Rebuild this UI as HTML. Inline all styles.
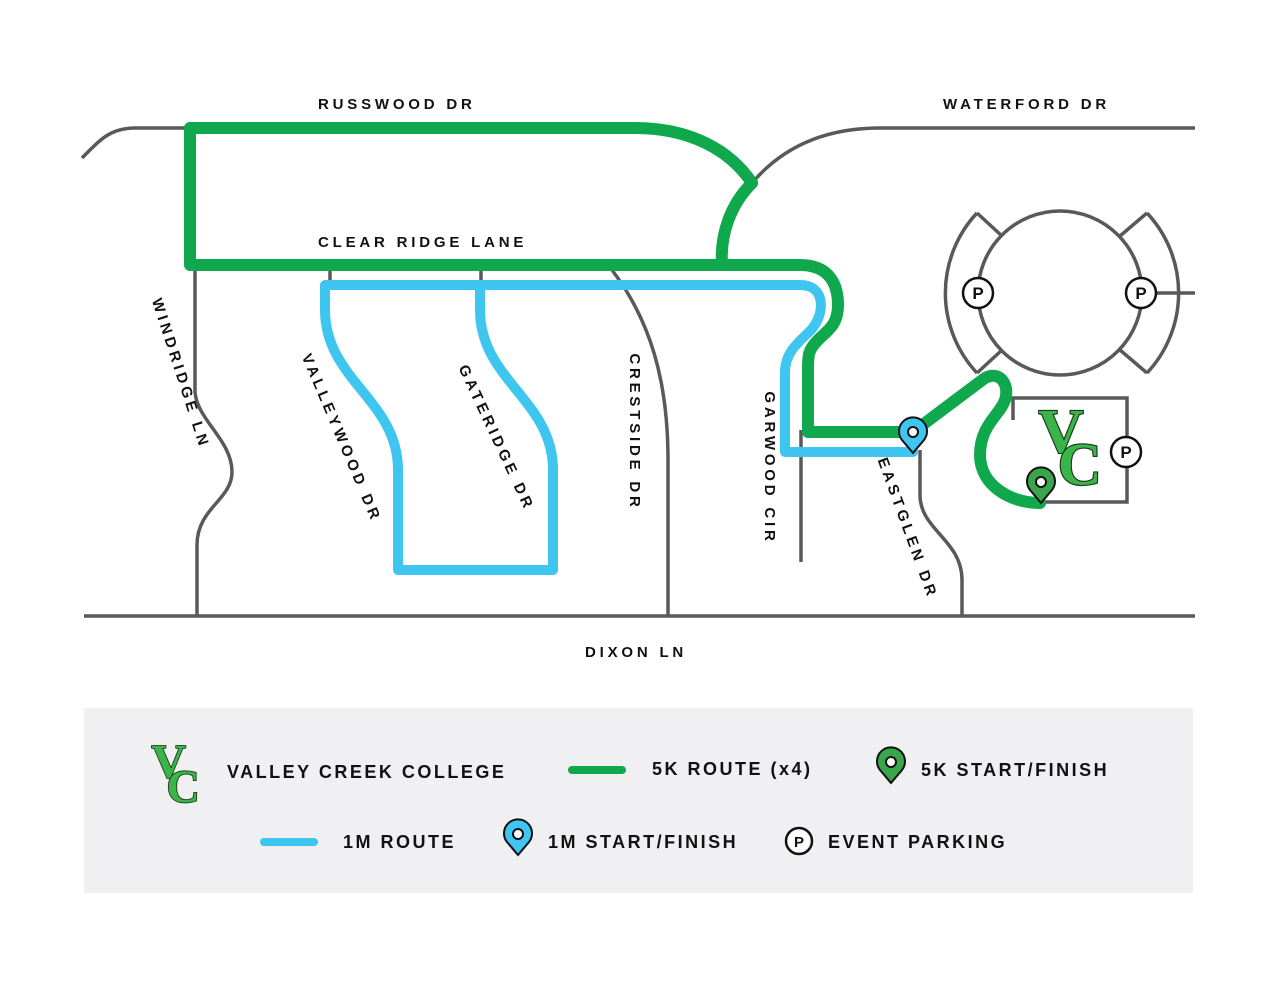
<!DOCTYPE html>
<html><head><meta charset="utf-8"><style>
html,body{margin:0;padding:0;background:#fff}
svg text{font-family:"Liberation Sans",sans-serif;font-weight:bold;fill:#111}
</style></head><body>
<svg width="1275" height="984" viewBox="0 0 1275 984" xmlns="http://www.w3.org/2000/svg">
<defs>
<symbol id="vc" viewBox="0 0 60 70">
<text x="0" y="40" style="font-family:'Liberation Serif',serif;font-weight:bold;font-size:54px;fill:#3bb54a;stroke:#1a3a1a;stroke-width:2;paint-order:stroke">V</text>
<text x="17" y="68" style="font-family:'Liberation Serif',serif;font-weight:bold;font-size:52px;fill:#3bb54a;stroke:#1a3a1a;stroke-width:2;paint-order:stroke">C</text>
</symbol>
</defs>
<g fill="none" stroke="#58595b" stroke-width="3.5">
<path d="M82,158 C100,140 110,128 135,128 L640,128"/>
<path d="M752,183 C780,150 820,128 880,128 L1195,128"/>
<path d="M84,616 L1195,616"/>
<path d="M195,265 L195,392 C197,420 232,440 232,472 C232,500 197,508 197,545 L197,616"/>
<path d="M330,265 L330,285"/><path d="M481,265 L481,285"/>
<path d="M612,270 C650,320 668,380 668,460 L668,616"/>
<path d="M801,430 L801,562"/>
<path d="M920,450 L920,495 C920,530 962,540 962,580 L962,616"/>
<circle cx="1060" cy="293" r="82"/>
<path d="M977,213 A117,117 0 0 0 977,373"/><path d="M977,213 L1002,236"/><path d="M977,373 L1002,350"/>
<path d="M1147,213 A117,117 0 0 1 1147,373"/><path d="M1147,213 L1120,236"/><path d="M1147,373 L1120,350"/>
<path d="M1141,293 L1195,293"/>
<path d="M1013,420 L1013,398 L1127,398 L1127,502 L1040,502"/>
</g>
<g fill="none" stroke="#0fa84d" stroke-width="12" stroke-linejoin="round" stroke-linecap="round">
<path d="M190,128 L635,128 C690,128 730,150 752,183"/>
<path d="M752,183 C730,205 720,235 722,265"/>
<path d="M190,128 L190,265 L800,265 C830,265 838,285 838,305 C838,325 828,330 818,340 C808,350 808,355 808,370 L808,432 L913,432 L985,378 C1000,370 1010,385 1005,400 C1000,415 980,425 980,455 C980,485 1010,503 1040,503"/>
</g>
<g fill="none" stroke="#3ec6f0" stroke-width="10" stroke-linejoin="round" stroke-linecap="round">
<path d="M913,452 L785,452 L785,372 C785,355 795,345 808,333 C825,318 828,285 800,285 L325,285 L325,310 C325,380 398,400 398,470 L398,570 L553,570 L553,470 C553,400 480,380 480,310 L480,285"/>
</g>
<g stroke="#111" stroke-width="2.5" fill="#fff">
<circle cx="978" cy="293" r="15"/><circle cx="1141" cy="293" r="15"/><circle cx="1126" cy="452" r="15"/>
</g>
<g font-size="17" text-anchor="middle" style="font-family:'Liberation Sans',sans-serif;font-weight:bold">
<text x="978" y="299">P</text><text x="1141" y="299">P</text><text x="1126" y="458">P</text>
</g>
<use href="#vc" x="1038" y="405" width="70" height="82"/>
<path d="M913,453 L902,440 A14,14 0 1 1 924,440 Z" fill="#3ec6f0" stroke="#111" stroke-width="2"/>
<circle cx="913" cy="432" r="5" fill="#fff" stroke="#111" stroke-width="2"/>
<path d="M1041,503 L1030,490 A14,14 0 1 1 1052,490 Z" fill="#3aa64b" stroke="#111" stroke-width="2"/>
<circle cx="1041" cy="482" r="5" fill="#fff" stroke="#111" stroke-width="2"/>
<g font-size="15" letter-spacing="3.8">
<text x="318" y="109">RUSSWOOD DR</text>
<text x="943" y="109">WATERFORD DR</text>
<text x="318" y="247">CLEAR RIDGE LANE</text>
<text x="585" y="657">DIXON LN</text>
<text transform="translate(176,375) rotate(72)" text-anchor="middle">WINDRIDGE LN</text>
<text transform="translate(337,440) rotate(67)" text-anchor="middle">VALLEYWOOD DR</text>
<text transform="translate(492,440) rotate(65)" text-anchor="middle">GATERIDGE DR</text>
<text transform="translate(630,432) rotate(90)" text-anchor="middle">CRESTSIDE DR</text>
<text transform="translate(765,468) rotate(90)" text-anchor="middle">GARWOOD CIR</text>
<text transform="translate(903,530) rotate(70)" text-anchor="middle">EASTGLEN DR</text>
</g>
<rect x="84" y="708" width="1109" height="185" fill="#f0f0f2"/>
<use href="#vc" x="150" y="742" width="56" height="62"/>
<line x1="572" y1="770" x2="622" y2="770" stroke="#0fa84d" stroke-width="8" stroke-linecap="round"/>
<line x1="264" y1="842" x2="314" y2="842" stroke="#3ec6f0" stroke-width="8" stroke-linecap="round"/>
<path d="M891,783 L880,770 A14,14 0 1 1 902,770 Z" fill="#3aa64b" stroke="#111" stroke-width="2"/>
<circle cx="891" cy="762" r="5" fill="#fff" stroke="#111" stroke-width="2"/>
<path d="M518,855 L507,842 A14,14 0 1 1 529,842 Z" fill="#3ec6f0" stroke="#111" stroke-width="2"/>
<circle cx="518" cy="834" r="5" fill="#fff" stroke="#111" stroke-width="2"/>
<circle cx="799" cy="841" r="13" fill="#fff" stroke="#111" stroke-width="2.5"/>
<text x="799" y="847" font-size="15" text-anchor="middle">P</text>
<g font-size="18" letter-spacing="2.5">
<text x="227" y="778">VALLEY CREEK COLLEGE</text>
<text x="652" y="775">5K ROUTE (x4)</text>
<text x="921" y="776">5K START/FINISH</text>
<text x="343" y="848">1M ROUTE</text>
<text x="548" y="848">1M START/FINISH</text>
<text x="828" y="848">EVENT PARKING</text>
</g>
</svg>
</body></html>
